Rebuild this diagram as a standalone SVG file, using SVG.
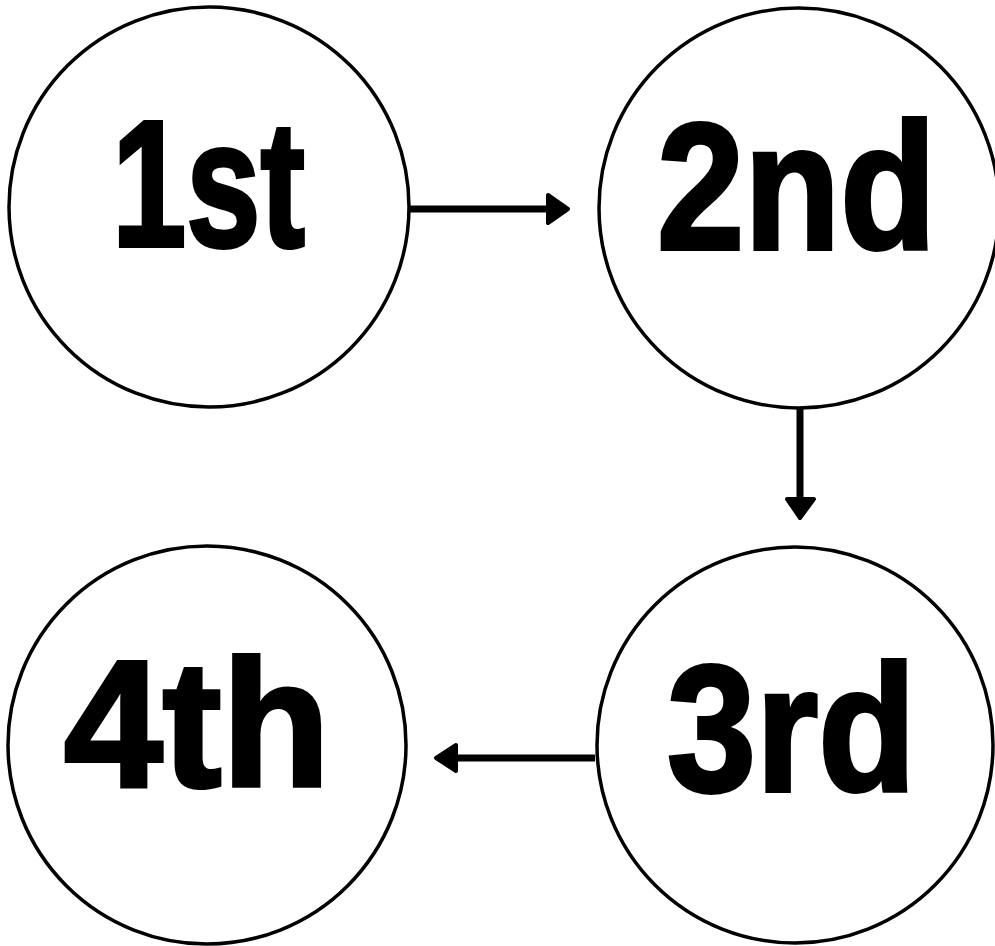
<svg xmlns="http://www.w3.org/2000/svg" width="995" height="946" viewBox="0 0 995 946">
<style>
.node{fill:#fff;stroke:#000;stroke-width:3.5}
.lbl{font-family:"Liberation Sans",Arial,sans-serif;font-weight:bold;font-size:180px;fill:#000;stroke:#000;stroke-width:4;stroke-linejoin:miter}
.line{stroke:#000;stroke-width:7;fill:none}
.head{fill:#000;stroke:#000;stroke-width:4;stroke-linejoin:round}
</style>
<rect width="995" height="946" fill="#fff"/>
<g id="n1"><circle class="node" cx="209" cy="207" r="200"/><text class="lbl" x="112" y="246" textLength="193" lengthAdjust="spacingAndGlyphs">1st</text></g>
<g id="n2"><circle class="node" cx="799" cy="208" r="200"/><text class="lbl" x="657" y="249" textLength="279" lengthAdjust="spacingAndGlyphs">2nd</text></g>
<g id="n3"><circle class="node" cx="795" cy="745" r="198"/><text class="lbl" x="667" y="791" textLength="249" lengthAdjust="spacingAndGlyphs">3rd</text></g>
<g id="n4"><circle class="node" cx="207" cy="745" r="199"/><text class="lbl" x="64" y="786" textLength="266" lengthAdjust="spacingAndGlyphs">4th</text></g>
<g id="connectors">
<line class="line" x1="410" y1="209" x2="550" y2="209"/>
<polygon class="head" points="548,195 568,209 548,223"/>
<line class="line" x1="800" y1="407" x2="800" y2="500"/>
<polygon class="head" points="787,499 800,518 814,499"/>
<line class="line" x1="595" y1="758" x2="455" y2="758"/>
<polygon class="head" points="456,745 436,758 456,771"/>
</g>
</svg>
